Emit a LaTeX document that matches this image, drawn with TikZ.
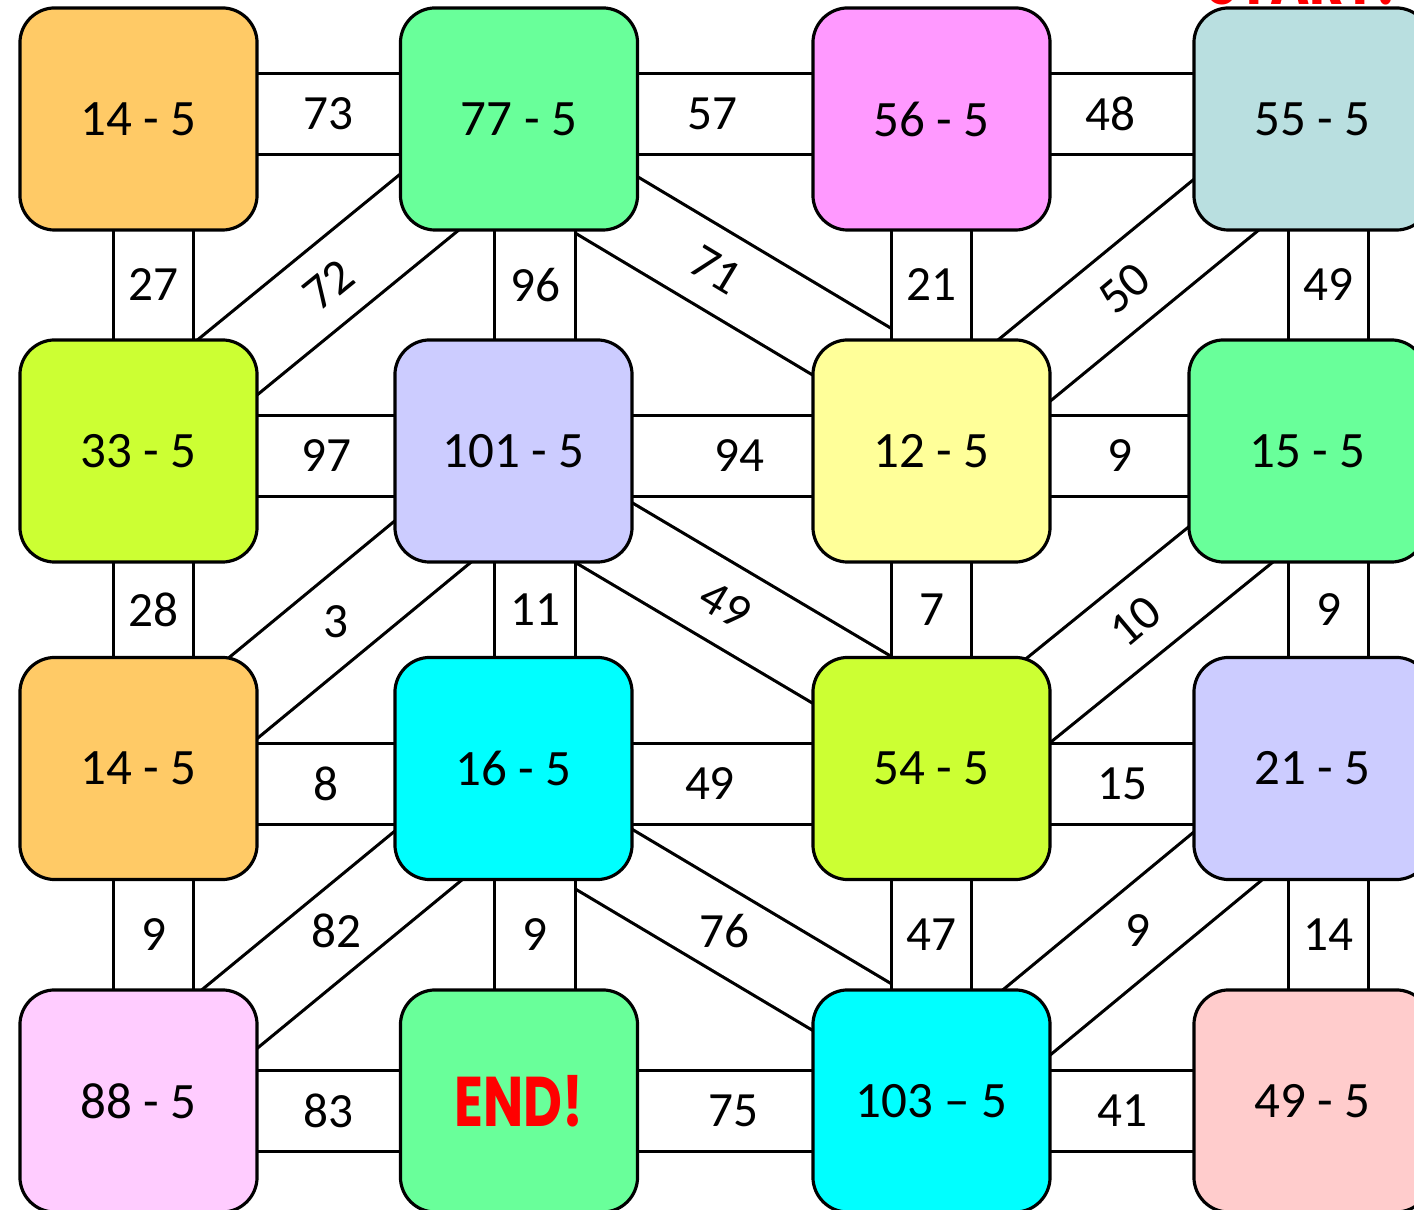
\documentclass[tikz,border=0pt]{standalone}
\usepackage{fontspec}
\setmainfont{Carlito}
\newfontfamily\bannerfont{Poppins}
\usetikzlibrary{backgrounds, calc}
\definecolor{tileorange}{HTML}{FFCA66}
\definecolor{tilemint}{HTML}{69FF9A}
\definecolor{tilepink}{HTML}{FF99FF}
\definecolor{tileteal}{HTML}{B9DFE0}
\definecolor{tilelime}{HTML}{CCFF33}
\definecolor{tilelavender}{HTML}{CCCCFF}
\definecolor{tilelemon}{HTML}{FFFF99}
\definecolor{tilecyan}{HTML}{00FFFF}
\definecolor{tilelilac}{HTML}{FFCCFF}
\definecolor{tilerose}{HTML}{FFCCCC}
\definecolor{bannerred}{HTML}{FF0000}
\tikzset{
  tile/.style={rectangle, rounded corners=0.35cm, draw=black, line width=0.9pt,
    minimum width=2.37cm, minimum height=2.22cm, inner sep=0pt,
    font=\fontsize{14.5}{17}\selectfont},
  corridor/.style={draw=black, line width=0.9pt, double=white, double distance=0.77cm},
  num/.style={font=\fontsize{14}{17}\selectfont, inner sep=0pt},
  banner/.style={text=bannerred, font=\bannerfont\bfseries\fontsize{20}{24}\selectfont},
}

\begin{document}
\begin{tikzpicture}[x=0.01cm, y=-0.01cm]
\clip (0,0) rectangle (1414,1210);
% tiles
\node[tile, fill=tileorange] (A1) at (138.5,119) {14 - 5};
\node[tile, fill=tilemint] (A2) at (519,119) {77 - 5};
\node[tile, fill=tilepink] (A3) at (931.5,119) {56 - 5};
\node[tile, fill=tileteal] (A4) at (1312.5,119) {55 - 5};
\node[tile, fill=tilelime] (B1) at (138.5,451) {33 - 5};
\node[tile, fill=tilelavender] (B2) at (513.5,451) {101 - 5};
\node[tile, fill=tilelemon] (B3) at (931.5,451) {12 - 5};
\node[tile, fill=tilemint] (B4) at (1307.5,451) {15 - 5};
\node[tile, fill=tileorange] (C1) at (138.5,768.5) {14 - 5};
\node[tile, fill=tilecyan] (C2) at (513.5,768.5) {16 - 5};
\node[tile, fill=tilelime] (C3) at (931.5,768.5) {54 - 5};
\node[tile, fill=tilelavender] (C4) at (1312.5,768.5) {21 - 5};
\node[tile, fill=tilelilac] (D1) at (138.5,1101) {88 - 5};
\node[tile, fill=tilemint] (D2) at (519,1101) {\raisebox{-0.1cm}{\bannerfont\bfseries\fontsize{20}{24}\selectfont\color{bannerred}\scalebox{0.76}[1]{END!}}};
\node[tile, fill=tilecyan] (D3) at (931.5,1101) {103 – 5};
\node[tile, fill=tilerose] (D4) at (1312.5,1101) {49 - 5};
\node[banner, anchor=base west, inner sep=0pt, xscale=0.76] (start) at (1205,5) {START!};

\begin{scope}[on background layer]
% slanted corridors
\draw[corridor] ($(A2)+(4.9,5.9)$) -- node[num, rotate=39] {72} ($(B1)+(-5.3,-6.6)$);
\draw[corridor] ($(A2)+(-14.8,24.8)$) -- node[num, rotate=-31, pos=0.47] {71} ($(B3)+(22.6,-38.2)$);
\draw[corridor] ($(A4)+(7.3,9)$) -- node[num, rotate=40] {50} ($(B3)+(-2,-2.8)$);
\draw[corridor] ($(B2)+(11.7,14.4)$) -- node[num] {3} ($(C1)+(8.1,9.2)$);
\draw[corridor] ($(B2)+(-12.3,20.8)$) -- node[num, rotate=-31] {49} ($(C3)+(18.2,-30.7)$);
\draw[corridor] ($(B4)+(15.4,18.8)$) -- node[num, rotate=40, pos=0.49] {10} ($(C3)+(8.9,11.4)$);
\draw[corridor] ($(C2)+(8.2,10.2)$) -- node[num, pos=0.48] {82} ($(D1)+(-3.2,-4.4)$);
\draw[corridor] ($(C2)+(-16.2,27.2)$) -- node[num] {76} ($(D3)+(20.5,-34.3)$);
\draw[corridor] ($(C4)+(8.8,10.3)$) -- node[num, pos=0.47] {9} (D3.center);
% straight corridors
\draw[corridor] ($(A1)+(0,-5)$) -- node[num] {73} ($(A2)+(0,-5)$);
\draw[corridor] ($(A2)+(0,-5)$) -- node[num, pos=0.47] {57} ($(A3)+(0,-5)$);
\draw[corridor] ($(A3)+(0,-5)$) -- node[num, pos=0.47] {48} ($(A4)+(0,-5)$);
\draw[corridor] ($(B1)+(0,5)$) -- node[num] {97} ($(B2)+(0,5)$);
\draw[corridor] ($(B2)+(0,5)$) -- node[num, pos=0.54] {94} ($(B3)+(0,5)$);
\draw[corridor] ($(B3)+(0,5)$) -- node[num] {9} ($(B4)+(0,5)$);
\draw[corridor] ($(C1)+(0,15.5)$) -- node[num] {8} ($(C2)+(0,15.5)$);
\draw[corridor] ($(C2)+(0,15.5)$) -- node[num, pos=0.47] {49} ($(C3)+(0,15.5)$);
\draw[corridor] ($(C3)+(0,15.5)$) -- node[num] {15} ($(C4)+(0,15.5)$);
\draw[corridor] ($(D1)+(0,10)$) -- node[num] {83} ($(D2)+(0,10)$);
\draw[corridor] ($(D2)+(0,10)$) -- node[num, pos=0.52] {75} ($(D3)+(0,10)$);
\draw[corridor] ($(D3)+(0,10)$) -- node[num] {41} ($(D4)+(0,10)$);
\draw[corridor] ($(A1)+(15,0)$) -- node[num] {27} ($(B1)+(15,0)$);
\draw[corridor] ($(B1)+(15,0)$) -- node[num] {28} ($(C1)+(15,0)$);
\draw[corridor] ($(C1)+(15,0)$) -- node[num] {9} ($(D1)+(15,0)$);
\draw[corridor] ($(A2)+(16,0)$) -- node[num] {96} ($(B2)+(21.5,0)$);
\draw[corridor] ($(B2)+(21.5,0)$) -- node[num] {11} ($(C2)+(21.5,0)$);
\draw[corridor] ($(C2)+(21.5,0)$) -- node[num] {9} ($(D2)+(16,0)$);
\draw[corridor] (A3.center) -- node[num] {21} (B3.center);
\draw[corridor] (B3.center) -- node[num] {7} (C3.center);
\draw[corridor] (C3.center) -- node[num] {47} (D3.center);
\draw[corridor] ($(A4)+(16,0)$) -- node[num] {49} ($(B4)+(21,0)$);
\draw[corridor] ($(B4)+(21,0)$) -- node[num] {9} ($(C4)+(16,0)$);
\draw[corridor] ($(C4)+(16,0)$) -- node[num] {14} ($(D4)+(16,0)$);
\end{scope}
\end{tikzpicture}
\end{document}
